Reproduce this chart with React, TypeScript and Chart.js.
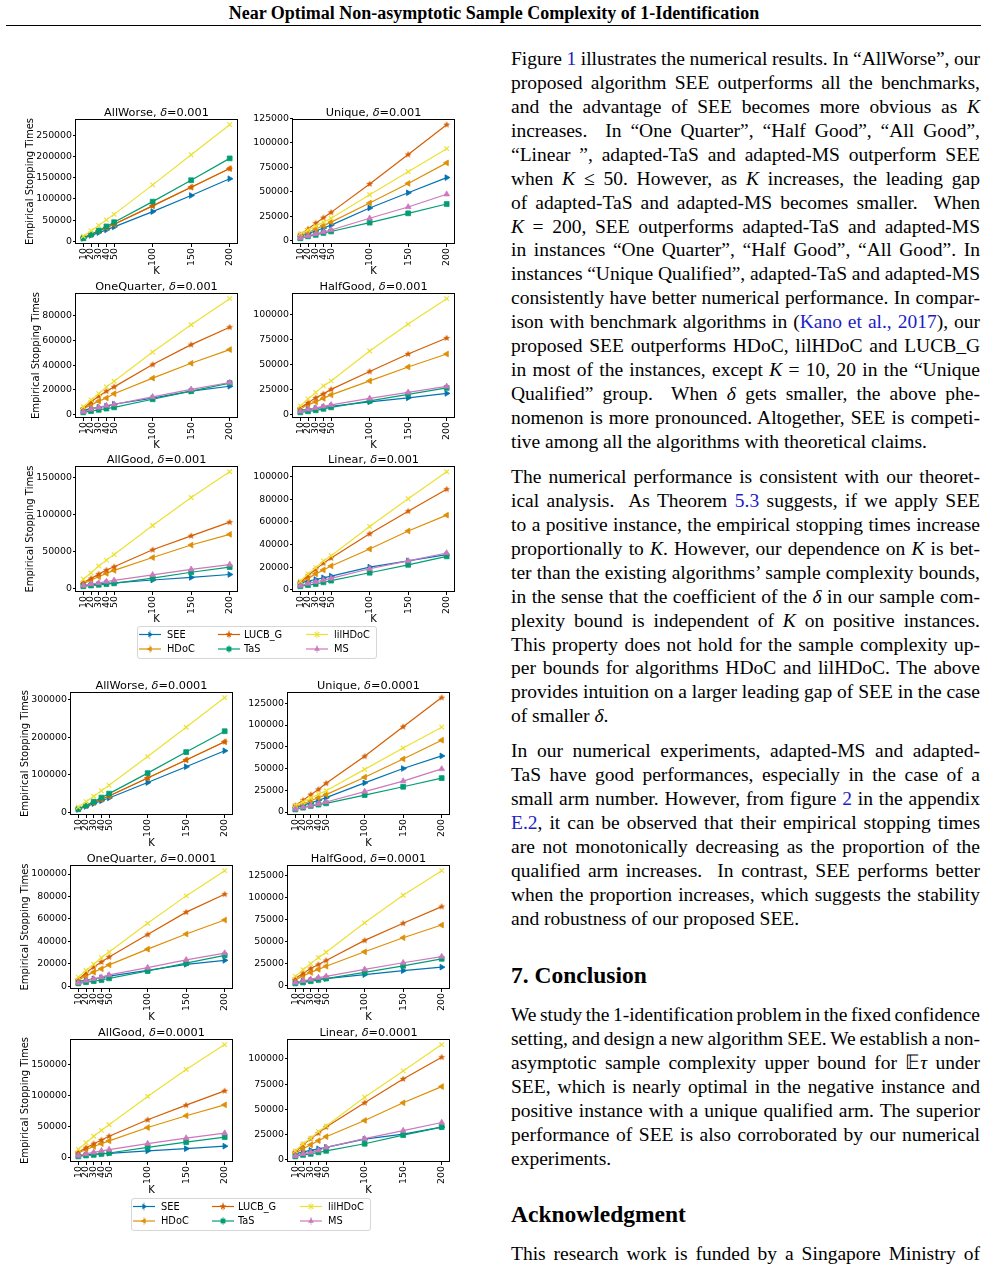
import React, { useEffect, useLayoutEffect, useRef } from 'react';
import { Chart, registerables } from 'chart.js';
Chart.register(...registerables);

// ---------------- DATA ----------------
const K_VALUES = [10, 20, 30, 40, 50, 100, 150, 200];
const SERIES_NAMES = ['SEE', 'HDoC', 'LUCB_G', 'TaS', 'lilHDoC', 'MS'];
const SERIES_COLORS = ['#0173b2', '#de8f05', '#d55e00', '#029e73', '#ece133', '#cc78bc'];

// delta = 0.001
const allWorse3SEE = [7000, 14000, 20500, 27000, 34000, 70000, 108000, 147500];
const allWorse3HDoC = [8000, 16500, 24500, 32000, 40000, 83500, 127500, 171500];
const allWorse3LUCB = [8000, 16500, 24500, 32000, 40000, 83500, 127500, 171500];
const allWorse3TaS = [7000, 16000, 25500, 35000, 45000, 93500, 144000, 195500];
const allWorse3lil = [12000, 25000, 37500, 50500, 63500, 133000, 204000, 275000];
const allWorse3Ticks = [0, 50000, 100000, 150000, 200000, 250000];

const unique3SEE = [4500, 7500, 10000, 13000, 16000, 33500, 49000, 64500];
const unique3HDoC = [5000, 8500, 12000, 15500, 19000, 38500, 58500, 79500];
const unique3LUCB = [6300, 12000, 18000, 23500, 29000, 58000, 88000, 118500];
const unique3TaS = [2500, 4500, 6000, 8000, 9500, 18500, 28000, 37500];
const unique3lil = [7000, 11000, 15000, 19000, 23000, 47000, 70500, 94000];
const unique3MS = [3000, 5000, 7000, 9000, 11000, 23000, 34500, 47500];
const unique3Ticks = [0, 25000, 50000, 75000, 100000, 125000];

const oneQuarter3SEE = [3500, 5000, 6000, 7000, 8500, 13500, 19000, 23000];
const oneQuarter3HDoC = [5000, 8000, 11000, 13500, 17000, 29500, 41500, 52500];
const oneQuarter3LUCB = [5000, 10500, 15000, 19000, 22500, 40500, 56500, 70500];
const oneQuarter3TaS = [2000, 3000, 4000, 5000, 6000, 12500, 19000, 25500];
const oneQuarter3lil = [6500, 12000, 17000, 22500, 27000, 50500, 72500, 93500];
const oneQuarter3MS = [2500, 4500, 6000, 7500, 8500, 14500, 20500, 26000];
const oneQuarter3Ticks = [0, 20000, 40000, 60000, 80000];

const halfGood3SEE = [4000, 5000, 6000, 7000, 8000, 12500, 16500, 21000];
const halfGood3HDoC = [5500, 9500, 12500, 16000, 19500, 33500, 47500, 60500];
const halfGood3LUCB = [6500, 11500, 16500, 20500, 25000, 43000, 60500, 76500];
const halfGood3TaS = [2000, 3000, 4000, 5500, 7000, 13500, 20000, 26500];
const halfGood3lil = [8500, 15500, 22000, 28500, 33500, 63500, 90500, 116000];
const halfGood3MS = [3000, 5000, 6500, 8000, 9500, 16000, 22000, 28000];
const halfGood3Ticks = [0, 25000, 50000, 75000, 100000];

const allGood3SEE = [3500, 4500, 5500, 6500, 7000, 11000, 14500, 18500];
const allGood3HDoC = [6000, 11000, 15500, 20000, 24000, 41500, 58500, 73000];
const allGood3LUCB = [7500, 13000, 19000, 24500, 29000, 52000, 71000, 89500];
const allGood3TaS = [2500, 3500, 4500, 5500, 6500, 13500, 21500, 28500];
const allGood3lil = [12000, 20500, 30000, 38000, 45500, 85000, 123000, 158000];
const allGood3MS = [3500, 5500, 7000, 9000, 10500, 18000, 25500, 32000];
const allGood3Ticks = [0, 50000, 100000, 150000];

const linear3SEE = [6000, 7500, 9000, 10500, 12000, 20000, 25500, 31000];
const linear3HDoC = [6000, 10000, 14000, 17500, 21000, 36000, 52000, 66000];
const linear3LUCB = [6500, 12500, 18000, 23500, 28000, 49500, 69500, 89000];
const linear3TaS = [3000, 4000, 5000, 6500, 8000, 15000, 22000, 29500];
const linear3lil = [7500, 14000, 19500, 25500, 30000, 56000, 80500, 104500];
const linear3MS = [3500, 5500, 7000, 8500, 10000, 18500, 25500, 32500];
const linear3Ticks = [0, 20000, 40000, 60000, 80000, 100000];

// delta = 0.0001
const allWorse4SEE = [7500, 15500, 23000, 30500, 38000, 79000, 121000, 163500];
const allWorse4HDoC = [9000, 17500, 26000, 34500, 43000, 91000, 139000, 187500];
const allWorse4LUCB = [9000, 17500, 26000, 34500, 43000, 91000, 139000, 187500];
const allWorse4TaS = [8000, 18000, 28000, 39000, 49500, 104000, 160000, 215500];
const allWorse4lil = [14000, 28000, 42500, 57000, 71500, 148000, 226000, 305000];
const allWorse4Ticks = [0, 100000, 200000, 300000];

const unique4SEE = [5000, 8000, 10500, 13500, 16500, 33500, 50000, 64500];
const unique4HDoC = [5500, 9000, 13000, 16500, 20000, 40000, 61000, 82500];
const unique4LUCB = [7500, 13500, 20000, 26000, 33000, 64000, 98000, 131500];
const unique4TaS = [3000, 5000, 7000, 8500, 10000, 19500, 29000, 39000];
const unique4lil = [7500, 11500, 16000, 20500, 24500, 49000, 73500, 97500];
const unique4MS = [3500, 5500, 7500, 9500, 11500, 23500, 35500, 49500];
const unique4Ticks = [0, 25000, 50000, 75000, 100000, 125000];

const oneQuarter4SEE = [4000, 5500, 6500, 7500, 9000, 14000, 19500, 23000];
const oneQuarter4HDoC = [5500, 9000, 12500, 15500, 19000, 33000, 46500, 59000];
const oneQuarter4LUCB = [6000, 12000, 17000, 21500, 26000, 46000, 66000, 82000];
const oneQuarter4TaS = [2500, 3500, 4500, 5500, 7000, 13500, 20500, 27500];
const oneQuarter4lil = [8000, 14000, 19500, 25500, 30500, 56000, 80500, 103000];
const oneQuarter4MS = [3000, 5000, 6500, 8000, 10000, 16500, 23500, 29500];
const oneQuarter4Ticks = [0, 20000, 40000, 60000, 80000, 100000];

const halfGood4SEE = [4000, 5000, 6000, 7000, 8000, 12500, 17000, 21000];
const halfGood4HDoC = [6500, 11000, 15000, 18500, 22000, 38500, 54500, 69000];
const halfGood4LUCB = [8000, 14000, 19500, 24000, 28500, 51500, 71000, 90000];
const halfGood4TaS = [2500, 3500, 5000, 6500, 8000, 15000, 22500, 30500];
const halfGood4lil = [10500, 18000, 25000, 32000, 38000, 71500, 103000, 131000];
const halfGood4MS = [3500, 5500, 7000, 9000, 10500, 18500, 26000, 33000];
const halfGood4Ticks = [0, 25000, 50000, 75000, 100000, 125000];

const allGood4SEE = [4000, 5000, 6000, 7000, 7500, 11500, 15000, 19000];
const allGood4HDoC = [8000, 13500, 18500, 23000, 27500, 49000, 68000, 85500];
const allGood4LUCB = [9500, 16500, 23000, 29000, 35000, 61500, 85000, 108000];
const allGood4TaS = [2500, 4000, 5000, 6500, 8000, 17000, 25500, 33500];
const allGood4lil = [14000, 24500, 35000, 44500, 53500, 99000, 142500, 182500];
const allGood4MS = [4000, 6500, 9000, 11500, 13500, 23000, 32000, 40000];
const allGood4Ticks = [0, 50000, 100000, 150000];

const linear4SEE = [6000, 8000, 9500, 11000, 12500, 20500, 25500, 32500];
const linear4HDoC = [7000, 11000, 15000, 19000, 23000, 39000, 56500, 72500];
const linear4LUCB = [8000, 15000, 21000, 26500, 32500, 56500, 80000, 101500];
const linear4TaS = [3500, 5000, 6000, 7500, 9000, 16000, 24500, 32500];
const linear4lil = [9000, 16000, 21500, 28000, 33500, 62000, 88000, 114000];
const linear4MS = [4000, 6000, 7500, 9500, 12500, 21000, 29000, 37000];
const linear4Ticks = [0, 25000, 50000, 75000, 100000];

const X_TICKS = [10, 20, 30, 40, 50, 100, 150, 200];

// ---------------- LAYOUT ----------------
const FONT = '"DejaVu Sans", sans-serif';
const TICK_SIZE = 9.4;
const AXIS_TITLE_SIZE = 10;
const TITLE_SIZE = 11.3;
const SERIF = '"Liberation Serif", "Times New Roman", serif';

type PanelDef = {
  name: string; delta: string; series: (number[] | null)[]; ticks: number[];
  L: number; T: number; R: number; B: number; ylab?: number; xh: number;
};

const PANELS: PanelDef[] = [
  { name: 'AllWorse', delta: '0.001', series: [allWorse3SEE, allWorse3HDoC, allWorse3LUCB, allWorse3TaS, allWorse3lil, null], ticks: allWorse3Ticks, L: 76, T: 119, R: 237, B: 244, ylab: 30, xh: 33 },
  { name: 'Unique', delta: '0.001', series: [unique3SEE, unique3HDoC, unique3LUCB, unique3TaS, unique3lil, unique3MS], ticks: unique3Ticks, L: 293, T: 119, R: 454, B: 244, xh: 33 },
  { name: 'OneQuarter', delta: '0.001', series: [oneQuarter3SEE, oneQuarter3HDoC, oneQuarter3LUCB, oneQuarter3TaS, oneQuarter3lil, oneQuarter3MS], ticks: oneQuarter3Ticks, L: 76, T: 293, R: 237, B: 418, ylab: 36, xh: 33 },
  { name: 'HalfGood', delta: '0.001', series: [halfGood3SEE, halfGood3HDoC, halfGood3LUCB, halfGood3TaS, halfGood3lil, halfGood3MS], ticks: halfGood3Ticks, L: 293, T: 293, R: 454, B: 418, xh: 33 },
  { name: 'AllGood', delta: '0.001', series: [allGood3SEE, allGood3HDoC, allGood3LUCB, allGood3TaS, allGood3lil, allGood3MS], ticks: allGood3Ticks, L: 76, T: 466, R: 237, B: 592, ylab: 30, xh: 33 },
  { name: 'Linear', delta: '0.001', series: [linear3SEE, linear3HDoC, linear3LUCB, linear3TaS, linear3lil, linear3MS], ticks: linear3Ticks, L: 293, T: 466, R: 454, B: 592, xh: 33 },
  { name: 'AllWorse', delta: '0.0001', series: [allWorse4SEE, allWorse4HDoC, allWorse4LUCB, allWorse4TaS, allWorse4lil, null], ticks: allWorse4Ticks, L: 71, T: 692, R: 232, B: 815, ylab: 25, xh: 34 },
  { name: 'Unique', delta: '0.0001', series: [unique4SEE, unique4HDoC, unique4LUCB, unique4TaS, unique4lil, unique4MS], ticks: unique4Ticks, L: 288, T: 692, R: 449, B: 815, xh: 34 },
  { name: 'OneQuarter', delta: '0.0001', series: [oneQuarter4SEE, oneQuarter4HDoC, oneQuarter4LUCB, oneQuarter4TaS, oneQuarter4lil, oneQuarter4MS], ticks: oneQuarter4Ticks, L: 71, T: 865, R: 232, B: 989, ylab: 25, xh: 34 },
  { name: 'HalfGood', delta: '0.0001', series: [halfGood4SEE, halfGood4HDoC, halfGood4LUCB, halfGood4TaS, halfGood4lil, halfGood4MS], ticks: halfGood4Ticks, L: 288, T: 865, R: 449, B: 989, xh: 34 },
  { name: 'AllGood', delta: '0.0001', series: [allGood4SEE, allGood4HDoC, allGood4LUCB, allGood4TaS, allGood4lil, allGood4MS], ticks: allGood4Ticks, L: 71, T: 1039, R: 232, B: 1162, ylab: 25, xh: 34 },
  { name: 'Linear', delta: '0.0001', series: [linear4SEE, linear4HDoC, linear4LUCB, linear4TaS, linear4lil, linear4MS], ticks: linear4Ticks, L: 288, T: 1039, R: 449, B: 1162, xh: 34 },
];

function makeStar(color: string, r: number): HTMLCanvasElement {
  const c = document.createElement('canvas');
  const s = Math.ceil(r * 2 + 2);
  c.width = s; c.height = s;
  const ctx = c.getContext('2d')!;
  ctx.fillStyle = color;
  ctx.beginPath();
  for (let i = 0; i < 10; i++) {
    const rad = (i % 2 === 0 ? r : r * 0.45);
    const a = -Math.PI / 2 + (i * Math.PI) / 5;
    const x = s / 2 + rad * Math.cos(a), y = s / 2 + rad * Math.sin(a);
    if (i === 0) ctx.moveTo(x, y); else ctx.lineTo(x, y);
  }
  ctx.closePath();
  ctx.fill();
  return c;
}

const PAD_TOP = 22;
const PAD_RIGHT = 8;

function ChartPanel({ p }: { p: PanelDef }) {
  const ref = useRef<HTMLCanvasElement>(null);
  const left = p.ylab !== undefined ? Math.round(p.ylab - 6) : p.L - 50;
  const yw = p.L - left;
  const w = yw + (p.R - p.L) + PAD_RIGHT;
  const h = PAD_TOP + (p.B - p.T) + p.xh;
  const top = p.T - PAD_TOP;

  useEffect(() => {
    const star = makeStar(SERIES_COLORS[2], 3.6);
    const pointStyles: any[] = ['triangle', 'triangle', star, 'rect', 'crossRot', 'triangle'];
    const rotations = [90, -90, 0, 0, 0, 0];
    const radii = [3.3, 3.3, 3.5, 3.4, 3.2, 3.3];
    let all: number[] = [];
    p.series.forEach((s) => { if (s) all = all.concat(s); });
    const mn = Math.min(...all), mx = Math.max(...all);
    const margin = (mx - mn) * 0.05;
    const datasets: any[] = [];
    SERIES_NAMES.forEach((name, i) => {
      const s = p.series[i];
      if (!s) return;
      datasets.push({
        label: name,
        data: K_VALUES.map((k, j) => ({ x: k, y: s[j] })),
        borderColor: SERIES_COLORS[i],
        backgroundColor: SERIES_COLORS[i],
        borderWidth: 1.2,
        pointStyle: pointStyles[i],
        pointRotation: rotations[i],
        pointRadius: radii[i],
        pointBorderWidth: i === 4 ? 1.2 : 0.8,
        pointBackgroundColor: SERIES_COLORS[i],
        pointBorderColor: SERIES_COLORS[i],
        tension: 0,
        fill: false,
        clip: false,
      });
    });
    datasets.reverse(); // first in list is drawn on top in Chart.js

    const titlePlugin = {
      id: 'mplTitle',
      afterDraw(chart: any) {
        const { ctx, chartArea } = chart;
        const parts = [
          { t: p.name + ', ', f: `${TITLE_SIZE}px ${FONT}` },
          { t: 'δ', f: `italic ${TITLE_SIZE}px ${FONT}` },
          { t: '=' + p.delta, f: `${TITLE_SIZE}px ${FONT}` },
        ];
        ctx.save();
        let total = 0;
        for (const q of parts) { ctx.font = q.f; total += ctx.measureText(q.t).width; }
        let x = (chartArea.left + chartArea.right) / 2 - total / 2;
        const y = chartArea.top - 3.5;
        ctx.fillStyle = '#000';
        ctx.textBaseline = 'alphabetic';
        ctx.textAlign = 'left';
        for (const q of parts) { ctx.font = q.f; ctx.fillText(q.t, x, y); x += ctx.measureText(q.t).width; }
        ctx.restore();
      },
    };
    const framePlugin = {
      id: 'mplFrame',
      afterDatasetsDraw(chart: any) {
        const { ctx, chartArea } = chart;
        ctx.save();
        ctx.strokeStyle = '#000';
        ctx.lineWidth = 1;
        ctx.strokeRect(Math.round(chartArea.left) - 0.5, Math.round(chartArea.top) + 0.5,
          Math.round(chartArea.right - chartArea.left) + 1, Math.round(chartArea.bottom - chartArea.top) - 1);
        ctx.restore();
      },
    };

    const chart = new Chart(ref.current!, {
      type: 'line',
      data: { datasets },
      plugins: [titlePlugin, framePlugin],
      options: {
        animation: false,
        responsive: false,
        devicePixelRatio: 1,
        layout: { padding: { top: PAD_TOP, right: PAD_RIGHT, left: 0, bottom: 0 } },
        plugins: { legend: { display: false }, tooltip: { enabled: false } },
        events: [],
        scales: {
          x: {
            type: 'linear',
            min: 0.5,
            max: 209.5,
            afterBuildTicks: (s: any) => { s.ticks = X_TICKS.map((v) => ({ value: v })); },
            afterFit: (s: any) => { s.height = p.xh; },
            ticks: {
              autoSkip: false, minRotation: 90, maxRotation: 90, padding: 1, color: '#000',
              font: { family: FONT, size: TICK_SIZE }, callback: (v: any) => String(v),
            },
            grid: { display: true, drawOnChartArea: false, drawTicks: true, tickLength: 3, color: '#000', lineWidth: 1 },
            border: { display: false },
            title: { display: true, text: 'K', color: '#000', font: { family: FONT, size: AXIS_TITLE_SIZE }, padding: 0 },
          },
          y: {
            type: 'linear',
            min: mn - margin,
            max: mx + margin,
            afterBuildTicks: (s: any) => { s.ticks = p.ticks.map((v) => ({ value: v })); },
            afterFit: (s: any) => { s.width = yw; },
            ticks: {
              autoSkip: false, padding: 1, color: '#000',
              font: { family: FONT, size: TICK_SIZE }, callback: (v: any) => String(v),
            },
            grid: { display: true, drawOnChartArea: false, drawTicks: true, tickLength: 3, color: '#000', lineWidth: 1 },
            border: { display: false },
            title: p.ylab !== undefined
              ? { display: true, text: 'Empirical Stopping Times', color: '#000', font: { family: FONT, size: AXIS_TITLE_SIZE }, padding: 0 }
              : { display: false },
          },
        },
      } as any,
    });
    return () => chart.destroy();
  }, []);

  return (
    <canvas ref={ref} width={w} height={h}
      style={{ position: 'absolute', left, top, width: w, height: h }} />
  );
}

// ---------------- LEGEND ----------------
function MarkerSvg({ i, cx, cy }: { i: number; cx: number; cy: number }) {
  const c = SERIES_COLORS[i];
  const r = 3.3;
  const s = 0.866 * r;
  if (i === 0) return <polygon points={`${cx + r},${cy} ${cx - r / 2},${cy - s} ${cx - r / 2},${cy + s}`} fill={c} />;
  if (i === 1) return <polygon points={`${cx - r},${cy} ${cx + r / 2},${cy - s} ${cx + r / 2},${cy + s}`} fill={c} />;
  if (i === 2) {
    const pts: string[] = [];
    for (let k = 0; k < 10; k++) {
      const rad = k % 2 === 0 ? 3.6 : 3.6 * 0.45;
      const a = -Math.PI / 2 + (k * Math.PI) / 5;
      pts.push(`${cx + rad * Math.cos(a)},${cy + rad * Math.sin(a)}`);
    }
    return <polygon points={pts.join(' ')} fill={c} />;
  }
  if (i === 3) return <rect x={cx - 2.4} y={cy - 2.4} width={4.8} height={4.8} fill={c} />;
  if (i === 4) return (
    <g stroke={c} strokeWidth={1.2}>
      <line x1={cx - 2.3} y1={cy - 2.3} x2={cx + 2.3} y2={cy + 2.3} />
      <line x1={cx - 2.3} y1={cy + 2.3} x2={cx + 2.3} y2={cy - 2.3} />
    </g>
  );
  return <polygon points={`${cx},${cy - r} ${cx + s},${cy + r / 2} ${cx - s},${cy + r / 2}`} fill={c} />;
}

const LEGEND_COL_LINE = [2, 81, 169];
const LEGEND_COL_TEXT = [30, 107, 197];

function Legend({ left, top }: { left: number; top: number }) {
  return (
    <div style={{ position: 'absolute', left, top, width: 240, height: 33, boxSizing: 'border-box',
      border: '1px solid #d6d6d6', borderRadius: 3, background: '#fff' }}>
      <svg width={240} height={33} style={{ position: 'absolute', left: -1, top: -1 }}>
        {SERIES_NAMES.map((n, i) => {
          const col = Math.floor(i / 2), row = i % 2;
          const x0 = LEGEND_COL_LINE[col];
          const y = 8.5 + row * 14.5;
          return (
            <g key={n}>
              <line x1={x0} y1={y} x2={x0 + 22} y2={y} stroke={SERIES_COLORS[i]} strokeWidth={1.2} />
              <line x1={x0 + 11} y1={y - 4} x2={x0 + 11} y2={y + 4} stroke={SERIES_COLORS[i]} strokeWidth={1} opacity={0.6} />
              <MarkerSvg i={i} cx={x0 + 11} cy={y} />
            </g>
          );
        })}
      </svg>
      {SERIES_NAMES.map((n, i) => {
        const col = Math.floor(i / 2), row = i % 2;
        return (
          <div key={n} style={{ position: 'absolute', left: LEGEND_COL_TEXT[col] - 1, top: 8.5 + row * 14.5 - 7 - 1,
            height: 14, lineHeight: '14px', fontFamily: FONT, fontSize: 9.8, color: '#000', whiteSpace: 'pre' }}>{n}</div>
        );
      })}
    </div>
  );
}

// ---------------- TEXT ----------------
const COL_X = 511;
const COL_W = 469;
const LH = 23.93;
const BODY_SIZE = 19.5;

const para1Lines = [
  'Figure [1] illustrates the numerical results. In “AllWorse”, our',
  'proposed algorithm SEE outperforms all the benchmarks,',
  'and the advantage of SEE becomes more obvious as *K*',
  'increases.  In “One Quarter”, “Half Good”, “All Good”,',
  '“Linear ”, adapted-TaS and adapted-MS outperform SEE',
  'when *K* ≤ 50. However, as *K* increases, the leading gap',
  'of adapted-TaS and adapted-MS becomes smaller.  When',
  '*K* = 200, SEE outperforms adapted-TaS and adapted-MS',
  'in instances “One Quarter”, “Half Good”, “All Good”. In',
  'instances “Unique Qualified”, adapted-TaS and adapted-MS',
  'consistently have better numerical performance. In compar-',
  'ison with benchmark algorithms in ([Kano et al., 2017]), our',
  'proposed SEE outperforms HDoC, lilHDoC and LUCB_G',
  'in most of the instances, except *K* = 10, 20 in the “Unique',
  'Qualified” group.  When *δ* gets smaller, the above phe-',
  'nomenon is more pronounced. Altogether, SEE is competi-',
  'tive among all the algorithms with theoretical claims.',
];
const para2Lines = [
  'The numerical performance is consistent with our theoret-',
  'ical analysis.  As Theorem [5.3] suggests, if we apply SEE',
  'to a positive instance, the empirical stopping times increase',
  'proportionally to *K*. However, our dependence on *K* is bet-',
  'ter than the existing algorithms’ sample complexity bounds,',
  'in the sense that the coefficient of the *δ* in our sample com-',
  'plexity bound is independent of *K* on positive instances.',
  'This property does not hold for the sample complexity up-',
  'per bounds for algorithms HDoC and lilHDoC. The above',
  'provides intuition on a larger leading gap of SEE in the case',
  'of smaller *δ*.',
];
const para3Lines = [
  'In our numerical experiments, adapted-MS and adapted-',
  'TaS have good performances, especially in the case of a',
  'small arm number. However, from figure [2] in the appendix',
  '[E.2], it can be observed that their empirical stopping times',
  'are not monotonically decreasing as the proportion of the',
  'qualified arm increases.  In contrast, SEE performs better',
  'when the proportion increases, which suggests the stability',
  'and robustness of our proposed SEE.',
];
const para4Lines = [
  'We study the 1-identification problem in the fixed confidence',
  'setting, and design a new algorithm SEE. We establish a non-',
  'asymptotic sample complexity upper bound for 𝔼*τ* under',
  'SEE, which is nearly optimal in the negative instance and',
  'positive instance with a unique qualified arm. The superior',
  'performance of SEE is also corroborated by our numerical',
  'experiments.',
];
const para5Lines = [
  'This research work is funded by a Singapore Ministry of',
];

function renderRich(text: string) {
  const parts = text.split(/(\*[^*]+\*|\[[^\]]+\])/g).filter((s) => s.length > 0);
  return parts.map((s, i) => {
    if (s.startsWith('*') && s.endsWith('*')) return <i key={i}>{s.slice(1, -1)}</i>;
    if (s.startsWith('[') && s.endsWith(']')) return <span key={i} style={{ color: '#1d1dc4' }}>{s.slice(1, -1)}</span>;
    return <span key={i}>{s}</span>;
  });
}

function TextLine({ text, top, justify }: { text: string; top: number; justify: boolean }) {
  const ref = useRef<HTMLSpanElement>(null);
  useLayoutEffect(() => {
    const el = ref.current;
    if (!el || !justify) return;
    el.style.wordSpacing = '0px';
    const w = el.getBoundingClientRect().width;
    const plain = text.replace(/[*\[\]]/g, '');
    const n = (plain.match(/ /g) || []).length;
    if (n > 0) el.style.wordSpacing = `${(COL_W - w) / n}px`;
  }, [text, justify]);
  return (
    <div style={{ position: 'absolute', left: COL_X, top, height: LH, lineHeight: `${LH}px`,
      whiteSpace: 'pre', fontFamily: SERIF, fontSize: BODY_SIZE, color: '#000' }}>
      <span ref={ref}>{renderRich(text)}</span>
    </div>
  );
}

function Paragraph({ lines, firstCenter, justifyLast }: { lines: string[]; firstCenter: number; justifyLast?: boolean }) {
  return (
    <>
      {lines.map((t, i) => (
        <TextLine key={i} text={t} top={firstCenter - LH / 2 + i * LH}
          justify={i < lines.length - 1 || !!justifyLast} />
      ))}
    </>
  );
}

export default function App() {
  return (
    <div style={{ position: 'absolute', left: 0, top: 0, width: 988, height: 1266, overflow: 'hidden', background: '#fff' }}>
      <div style={{ position: 'absolute', left: 0, top: 0, width: 988, height: 26, lineHeight: '26px', textAlign: 'center',
        fontFamily: SERIF, fontWeight: 'bold', fontSize: 18, color: '#000' }}>
        Near Optimal Non-asymptotic Sample Complexity of 1-Identification
      </div>
      <div style={{ position: 'absolute', left: 6, top: 25, width: 975, height: 1, background: '#000' }} />

      {PANELS.map((p, i) => <ChartPanel key={i} p={p} />)}
      <Legend left={137} top={626} />
      <Legend left={131} top={1198} />

      <Paragraph lines={para1Lines} firstCenter={59} />
      <Paragraph lines={para2Lines} firstCenter={477} />
      <Paragraph lines={para3Lines} firstCenter={751} />
      <div style={{ position: 'absolute', left: COL_X, top: 975 - 15, height: 30, lineHeight: '30px',
        fontFamily: SERIF, fontWeight: 'bold', fontSize: 23.5, color: '#000', whiteSpace: 'pre' }}>7. Conclusion</div>
      <Paragraph lines={para4Lines} firstCenter={1015} />
      <div style={{ position: 'absolute', left: COL_X, top: 1214 - 15, height: 30, lineHeight: '30px',
        fontFamily: SERIF, fontWeight: 'bold', fontSize: 23.5, color: '#000', whiteSpace: 'pre' }}>Acknowledgment</div>
      <Paragraph lines={para5Lines} firstCenter={1254} justifyLast />
    </div>
  );
}
